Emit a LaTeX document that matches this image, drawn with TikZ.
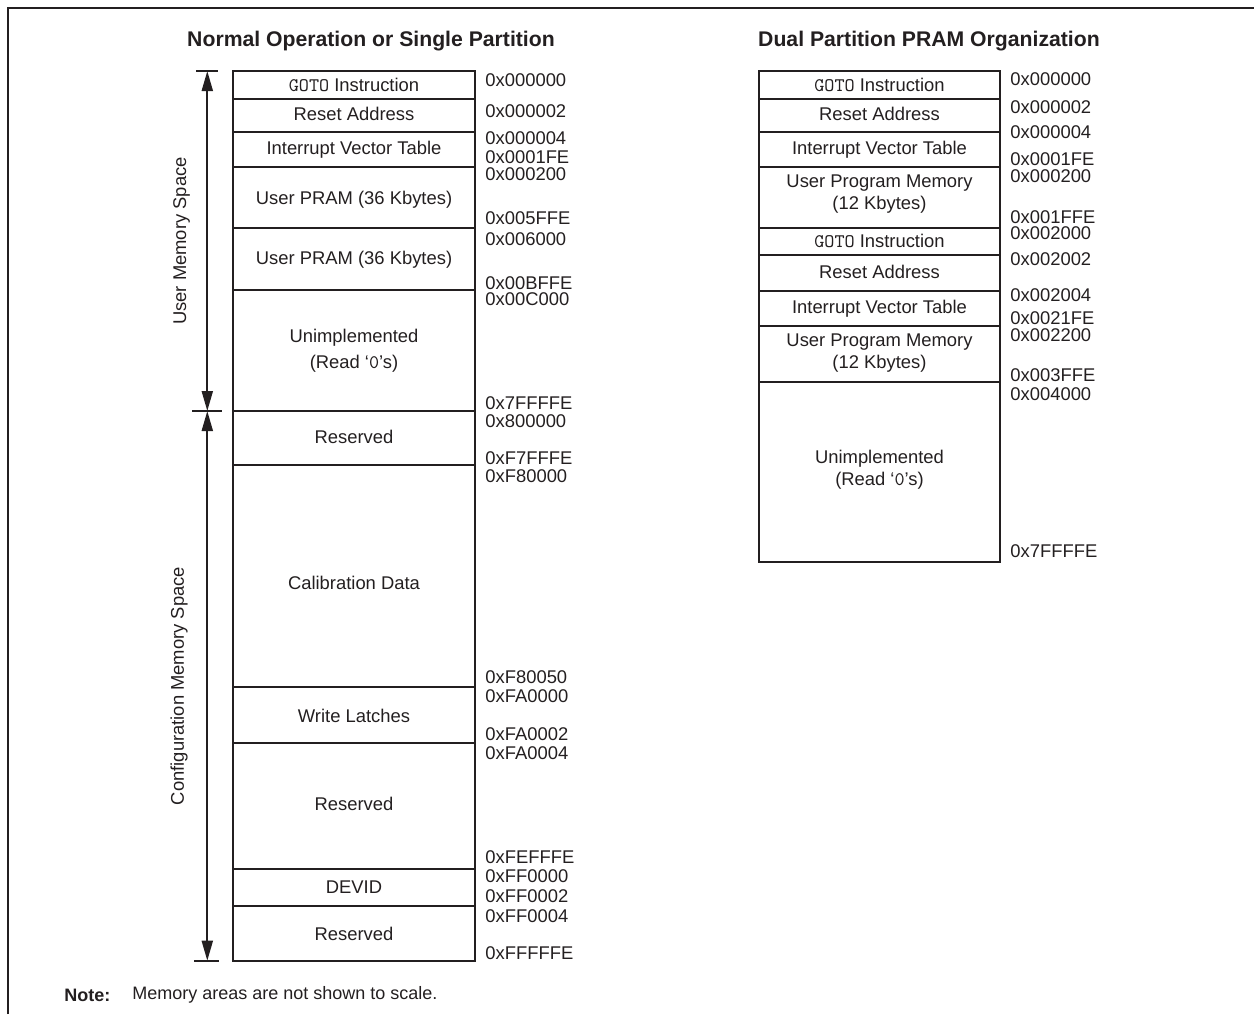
\documentclass[tikz,border=0pt]{standalone}
\usepackage{fontspec}
\setmainfont{Liberation Sans}
\newcommand\monoglyph[1]{{\ttfamily\fontsize{9.6}{11}\selectfont #1}}
\usetikzlibrary{arrows.meta}
\definecolor{mapink}{RGB}{35,31,32}

\begin{document}
\begin{tikzpicture}[x=.5pt,y=-.5pt,
  cell/.style={draw=mapink,line width=1pt},
  lbl/.style={font=\fontsize{9.2}{11}\selectfont,text=mapink,inner sep=0pt,align=center},
  addr/.style={lbl,anchor=west},
  head/.style={font=\fontsize{10.6}{13}\selectfont\bfseries,text=mapink,inner sep=0pt,anchor=base},
  span/.style={{Triangle[length=10pt,width=5.5pt]}-{Triangle[length=10pt,width=5.5pt]},line width=1pt,mapink},
  tick/.style={line width=1pt,mapink}]
\path[use as bounding box] (0,0) rectangle (1254,1014);
% frame
\draw[line width=1pt,mapink] (8,1014)--(8,8)--(1254,8);
\node[head] (hleft) at (371,46.7) {Normal Operation or Single Partition};
\node[head] (hright) at (929,46.7) {Dual Partition PRAM Organization};

% left memory map
\draw[cell] (233,71) rectangle (475,98.7);
\draw[cell] (233,98.7) rectangle (475,131.7);
\draw[cell] (233,131.7) rectangle (475,166.7);
\draw[cell] (233,166.7) rectangle (475,227.7);
\draw[cell] (233,227.7) rectangle (475,290);
\draw[cell] (233,290) rectangle (475,411);
\draw[cell] (233,411) rectangle (475,465);
\draw[cell] (233,465) rectangle (475,686.7);
\draw[cell] (233,686.7) rectangle (475,743.3);
\draw[cell] (233,743.3) rectangle (475,869);
\draw[cell] (233,869) rectangle (475,905.7);
\draw[cell] (233,905.7) rectangle (475,960.7);
\node[lbl] (lgoto) at (354,85) {\monoglyph{GOTO} Instruction};
\node[lbl] (lreset) at (354,114.3) {Reset Address};
\node[lbl] (livt) at (354,149.3) {Interrupt Vector Table};
\node[lbl] (lpram1) at (354,199.3) {User PRAM (36 Kbytes)};
\node[lbl] (lpram2) at (354,259.3) {User PRAM (36 Kbytes)};
\node[lbl] (lunimp) at (354,351) {Unimplemented\\[2pt](Read ‘\monoglyph{0}’s)};
\node[lbl] (lres1) at (354,436.7) {Reserved};
\node[lbl] (lcal) at (354,583.3) {Calibration Data};
\node[lbl] (llatch) at (354,715.7) {Write Latches};
\node[lbl] (lres2) at (354,804.3) {Reserved};
\node[lbl] (ldevid) at (354,887.3) {DEVID};
\node[lbl] (lres3) at (354,934.3) {Reserved};

\node[addr] (la1) at (485,80) {0x000000};
\node[addr] (la2) at (485,111) {0x000002};
\node[addr] (la3) at (485,137.7) {0x000004};
\node[addr] (la4) at (485,156.7) {0x0001FE};
\node[addr] (la5) at (485,174.3) {0x000200};
\node[addr] (la6) at (485,217.7) {0x005FFE};
\node[addr] (la7) at (485,239) {0x006000};
\node[addr] (la8) at (485,282.7) {0x00BFFE};
\node[addr] (la9) at (485,299.3) {0x00C000};
\node[addr] (la10) at (485,403) {0x7FFFFE};
\node[addr] (la11) at (485,420.7) {0x800000};
\node[addr] (la12) at (485,457.7) {0xF7FFFE};
\node[addr] (la13) at (485,475.7) {0xF80000};
\node[addr] (la14) at (485,676.7) {0xF80050};
\node[addr] (la15) at (485,695.7) {0xFA0000};
\node[addr] (la16) at (485,734) {0xFA0002};
\node[addr] (la17) at (485,752.7) {0xFA0004};
\node[addr] (la18) at (485,856.7) {0xFEFFFE};
\node[addr] (la19) at (485,875.7) {0xFF0000};
\node[addr] (la20) at (485,895.7) {0xFF0002};
\node[addr] (la21) at (485,915.7) {0xFF0004};
\node[addr] (la22) at (485,953.3) {0xFFFFFE};

% memory space spans
\coordinate (utop) at (207.3,71);
\coordinate (umid) at (207.3,411);
\coordinate (ubot) at (207.3,960.7);
\draw[tick] (196,71)--(218.3,71);
\draw[tick] (192,411)--(221.7,411);
\draw[tick] (194,960.7)--(219.3,960.7);
\draw[span] (utop)--(umid);
\draw[span] (umid)--(ubot);
\node[lbl,rotate=90] (userspace) at (181.7,241) {User Memory Space};
\node[lbl,rotate=90] (cfgspace) at (179,686) {Configuration Memory Space};

% right memory map
\draw[cell] (759,71) rectangle (1000,98.7);
\draw[cell] (759,98.7) rectangle (1000,131.7);
\draw[cell] (759,131.7) rectangle (1000,166.7);
\draw[cell] (759,166.7) rectangle (1000,227.7);
\draw[cell] (759,227.7) rectangle (1000,255);
\draw[cell] (759,255) rectangle (1000,290.7);
\draw[cell] (759,290.7) rectangle (1000,325.7);
\draw[cell] (759,325.7) rectangle (1000,381.7);
\draw[cell] (759,381.7) rectangle (1000,562.3);
\node[lbl] (rgoto1) at (879.5,85) {\monoglyph{GOTO} Instruction};
\node[lbl] (rreset1) at (879.5,114.3) {Reset Address};
\node[lbl] (rivt1) at (879.5,149.3) {Interrupt Vector Table};
\node[lbl] (rpgm1) at (879.5,194.5) {User Program Memory\\(12 Kbytes)};
\node[lbl] (rgoto2) at (879.5,241) {\monoglyph{GOTO} Instruction};
\node[lbl] (rreset2) at (879.5,271.7) {Reset Address};
\node[lbl] (rivt2) at (879.5,308.3) {Interrupt Vector Table};
\node[lbl] (rpgm2) at (879.5,353.3) {User Program Memory\\(12 Kbytes)};
\node[lbl] (runimp) at (879.5,470) {Unimplemented\\(Read ‘\monoglyph{0}’s)};

\node[addr] (ra1) at (1010,79) {0x000000};
\node[addr] (ra2) at (1010,106.7) {0x000002};
\node[addr] (ra3) at (1010,131.7) {0x000004};
\node[addr] (ra4) at (1010,159.3) {0x0001FE};
\node[addr] (ra5) at (1010,176) {0x000200};
\node[addr] (ra6) at (1010,216.7) {0x001FFE};
\node[addr] (ra7) at (1010,233.3) {0x002000};
\node[addr] (ra8) at (1010,259.3) {0x002002};
\node[addr] (ra9) at (1010,295) {0x002004};
\node[addr] (ra10) at (1010,318.3) {0x0021FE};
\node[addr] (ra11) at (1010,335) {0x002200};
\node[addr] (ra12) at (1010,375) {0x003FFE};
\node[addr] (ra13) at (1010,394) {0x004000};
\node[addr] (ra14) at (1010,550.7) {0x7FFFFE};

% note
\node[lbl,anchor=west,font=\fontsize{9}{11}\selectfont\bfseries] (notehead) at (64,995) {Note:};
\node[lbl,anchor=west,font=\fontsize{9}{11}\selectfont] (notetext) at (132,995) {Memory areas are not shown to scale.};
\end{tikzpicture}
\end{document}
